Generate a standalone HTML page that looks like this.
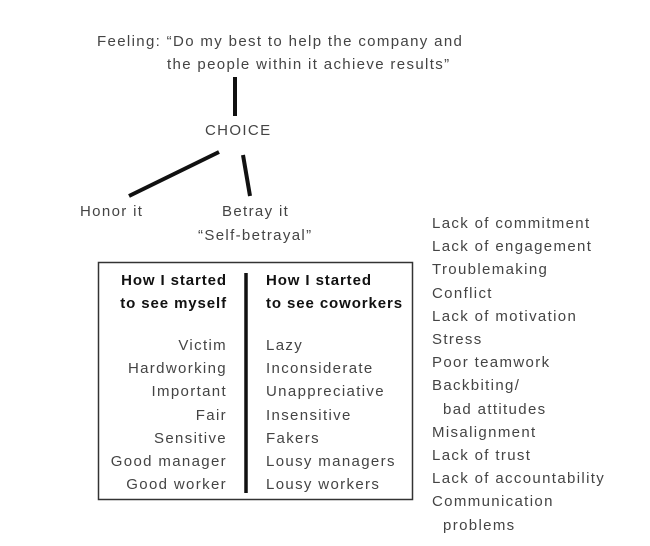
<!DOCTYPE html>
<html><head><meta charset="utf-8"><style>
body{margin:0;width:650px;height:546px;background:#fff;position:relative;overflow:hidden;font-family:"Liberation Sans",sans-serif;font-size:15px;color:#444;letter-spacing:1.35px}
.t{position:absolute;white-space:nowrap;line-height:18px}
.r{text-align:right}
b{color:#111;font-weight:bold;letter-spacing:0.9px}
</style></head><body>
<svg width="650" height="546" style="position:absolute;left:0;top:0">
<line x1="235" y1="77" x2="235" y2="116" stroke="#111" stroke-width="4"/>
<line x1="219" y1="152" x2="129" y2="196" stroke="#111" stroke-width="4"/>
<line x1="243" y1="155" x2="250" y2="196" stroke="#111" stroke-width="4"/>
<rect x="98.5" y="262.5" width="314" height="237" fill="none" stroke="#333" stroke-width="1.5"/>
<line x1="246" y1="273" x2="246" y2="493" stroke="#111" stroke-width="3.5"/>
</svg>
<div class="t" style="left:97px;top:33px">Feeling: “Do my best to help the company and</div>
<div class="t" style="left:167px;top:56px">the people within it achieve results”</div>
<div class="t" style="left:205px;top:122px">CHOICE</div>
<div class="t" style="left:80px;top:203px">Honor it</div>
<div class="t" style="left:222px;top:203px">Betray it</div>
<div class="t" style="left:198px;top:227px">“Self-betrayal”</div>
<div class="t r" style="left:100px;width:127px;top:272px"><b>How I started</b></div>
<div class="t r" style="left:100px;width:127px;top:295px"><b>to see myself</b></div>
<div class="t" style="left:266px;top:272px"><b>How I started</b></div>
<div class="t" style="left:266px;top:295px"><b>to see coworkers</b></div>
<div class="t r" style="left:90px;width:137px;top:334px;line-height:23.2px">Victim<br>Hardworking<br>Important<br>Fair<br>Sensitive<br>Good manager<br>Good worker</div>
<div class="t" style="left:266px;top:334px;line-height:23.2px">Lazy<br>Inconsiderate<br>Unappreciative<br>Insensitive<br>Fakers<br>Lousy managers<br>Lousy workers</div>
<div class="t" style="left:432px;top:212px;line-height:23.2px">Lack of commitment<br>Lack of engagement<br>Troublemaking<br>Conflict<br>Lack of motivation<br>Stress<br>Poor teamwork<br>Backbiting/<br>&nbsp;&nbsp;bad attitudes<br>Misalignment<br>Lack of trust<br>Lack of accountability<br>Communication<br>&nbsp;&nbsp;problems</div>
</body></html>
